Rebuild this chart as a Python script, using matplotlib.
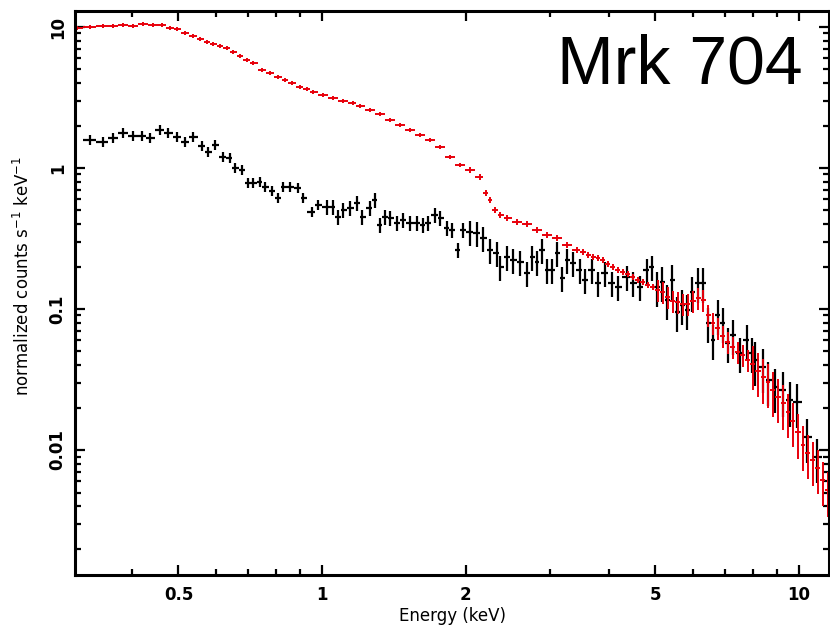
#!/usr/bin/env python3
import numpy as np
import matplotlib
matplotlib.use('Agg')
import matplotlib.pyplot as plt
from matplotlib.ticker import FixedLocator, NullFormatter, FixedFormatter

# second observation (red), energy in keV and normalized counts s^-1 keV^-1
red_energy = [0.306, 0.326, 0.347, 0.365, 0.383, 0.402, 0.421, 0.442, 0.462, 0.480,
              0.497, 0.516, 0.537, 0.555, 0.574, 0.591, 0.611, 0.632, 0.651, 0.673,
              0.696, 0.717, 0.749, 0.778, 0.809, 0.836, 0.865, 0.899, 0.930, 0.957,
              1.005, 1.054, 1.107, 1.161, 1.201, 1.261, 1.323, 1.389, 1.457, 1.529,
              1.605, 1.684, 1.768, 1.855, 1.947, 2.043, 2.144, 2.207, 2.250, 2.305,
              2.362, 2.443, 2.564, 2.690, 2.823, 2.963, 3.110, 3.264, 3.424, 3.525,
              3.612, 3.700, 3.790, 3.882, 3.977, 4.074, 4.174, 4.276, 4.380, 4.487,
              4.597, 4.709, 4.824, 4.942, 5.063, 5.186, 5.313, 5.443, 5.576, 5.712,
              5.852, 5.995, 6.143, 6.293, 6.450, 6.602, 6.763, 6.928, 7.097, 7.270,
              7.448, 7.630, 7.817, 8.008, 8.204, 8.410, 8.610, 8.821, 9.036, 9.260,
              9.483, 9.714, 9.952, 10.20, 10.44, 10.70, 10.96, 11.23, 11.50]
red_counts = [9.84, 10.0, 10.16, 10.16, 10.33, 10.16, 10.5, 10.33, 10.33, 9.84,
              9.68, 9.07, 8.64, 8.22, 7.83, 7.58, 7.33, 7.10, 6.65, 6.23,
              5.83, 5.55, 4.95, 4.72, 4.42, 4.21, 4.01, 3.75, 3.63, 3.46,
              3.29, 3.14, 2.99, 2.89, 2.75, 2.58, 2.42, 2.19, 2.02, 1.86,
              1.71, 1.58, 1.41, 1.20, 1.05, 0.968, 0.863, 0.665, 0.593, 0.504,
              0.464, 0.442, 0.414, 0.401, 0.363, 0.335, 0.319, 0.284, 0.262, 0.254,
              0.242, 0.234, 0.230, 0.223, 0.209, 0.199, 0.189, 0.183, 0.177, 0.169,
              0.161, 0.155, 0.148, 0.143, 0.136, 0.132, 0.122, 0.114, 0.112, 0.109,
              0.109, 0.114, 0.120, 0.116, 0.0907, 0.0796, 0.0733, 0.0644, 0.0583, 0.0537,
              0.0495, 0.0472, 0.0435, 0.0407, 0.0363, 0.0329, 0.0304, 0.0266, 0.0238, 0.0215,
              0.0186, 0.0161, 0.0134, 0.0109, 0.00952, 0.00849, 0.00745, 0.00613, 0.00517]

# first observation (black)
black_energy = [0.326, 0.347, 0.365, 0.383, 0.402, 0.419, 0.436, 0.457, 0.476, 0.497,
                0.516, 0.537, 0.560, 0.577, 0.597, 0.620, 0.641, 0.657, 0.680, 0.700,
                0.717, 0.741, 0.759, 0.786, 0.809, 0.828, 0.857, 0.891, 0.912, 0.953,
                0.981, 1.024, 1.054, 1.080, 1.107, 1.145, 1.184, 1.213, 1.261, 1.291,
                1.323, 1.355, 1.389, 1.436, 1.478, 1.529, 1.582, 1.628, 1.668, 1.725,
                1.768, 1.828, 1.873, 1.928, 1.975, 2.043, 2.113, 2.176, 2.250, 2.327,
                2.362, 2.443, 2.515, 2.601, 2.690, 2.756, 2.823, 2.892, 2.963, 3.035,
                3.110, 3.186, 3.264, 3.358, 3.474, 3.559, 3.681, 3.790, 3.920, 4.055,
                4.174, 4.359, 4.490, 4.642, 4.801, 4.918, 5.039, 5.163, 5.289, 5.418,
                5.550, 5.685, 5.830, 5.968, 6.143, 6.293, 6.450, 6.602, 6.763, 6.928,
                7.097, 7.270, 7.520, 7.780, 7.970, 8.090, 8.410, 8.610, 8.910, 9.260,
                9.570, 9.900, 10.39, 10.91]
black_counts = [1.58, 1.53, 1.63, 1.77, 1.69, 1.69, 1.63, 1.86, 1.77, 1.66,
                1.53, 1.66, 1.43, 1.30, 1.46, 1.20, 1.18, 1.00, 0.968, 0.783,
                0.783, 0.796, 0.733, 0.687, 0.613, 0.733, 0.733, 0.721, 0.613, 0.487,
                0.547, 0.529, 0.529, 0.449, 0.504, 0.520, 0.565, 0.449, 0.520, 0.593,
                0.394, 0.449, 0.442, 0.407, 0.428, 0.407, 0.407, 0.394, 0.407, 0.464,
                0.442, 0.375, 0.363, 0.262, 0.363, 0.352, 0.346, 0.319, 0.262, 0.249,
                0.199, 0.234, 0.223, 0.215, 0.180, 0.234, 0.215, 0.262, 0.189, 0.189,
                0.249, 0.166, 0.223, 0.212, 0.189, 0.161, 0.189, 0.153, 0.180, 0.153,
                0.143, 0.169, 0.153, 0.143, 0.189, 0.199, 0.143, 0.155, 0.116, 0.161,
                0.0952, 0.107, 0.0984, 0.132, 0.153, 0.153, 0.0796, 0.0603, 0.0907, 0.0796,
                0.0574, 0.0654, 0.0487, 0.0603, 0.0487, 0.0435, 0.0388, 0.0314, 0.0280, 0.0266,
                0.0226, 0.0219, 0.0124, 0.00892]

# rough fractional errors per energy band (upper band edge in keV)
band_edges = [1.0, 2.0, 5.0, 8.0, 100.0]
red_relerr = [0.03, 0.03, 0.05, 0.18, 0.35]
black_relerr = [0.08, 0.12, 0.20, 0.28, 0.35]


def bin_halfwidths(energy):
    e = np.asarray(energy)
    mids = np.sqrt(e[1:] * e[:-1])
    lo = np.concatenate([[e[0] ** 2 / mids[0]], mids])
    hi = np.concatenate([mids, [e[-1] ** 2 / mids[-1]]])
    return np.vstack([e - lo, hi - e])


def count_errors(energy, counts, relerr):
    e = np.asarray(energy)
    c = np.asarray(counts)
    idx = np.searchsorted(band_edges, e)
    return c * np.asarray(relerr)[idx]


def draw_spectrum(ax, energy, counts, relerr, color, lw):
    ax.errorbar(energy, counts,
                xerr=bin_halfwidths(energy),
                yerr=count_errors(energy, counts, relerr),
                fmt='none', ecolor=color, elinewidth=lw, capsize=0)


def main():
    plt.rcParams['font.family'] = 'DejaVu Sans'
    fig = plt.figure(figsize=(8.3, 6.25), dpi=100)
    ax = fig.add_axes([0.0904, 0.08, 0.9084, 0.9024])

    draw_spectrum(ax, black_energy, black_counts, black_relerr, 'black', 1.6)
    draw_spectrum(ax, red_energy, red_counts, red_relerr, '#e8000b', 1.4)

    ax.set_xscale('log')
    ax.set_yscale('log')
    ax.set_xlim(0.3035, 11.56)
    ax.set_ylim(0.0013, 12.99)

    xmajor = [0.5, 1, 2, 5, 10]
    ax.xaxis.set_major_locator(FixedLocator(xmajor))
    ax.xaxis.set_major_formatter(FixedFormatter(['0.5', '1', '2', '5', '10']))
    ax.xaxis.set_minor_locator(FixedLocator([0.4, 0.6, 0.7, 0.8, 0.9, 3, 4, 6, 7, 8, 9]))
    ax.xaxis.set_minor_formatter(NullFormatter())

    ymajor = [0.01, 0.1, 1, 10]
    ax.yaxis.set_major_locator(FixedLocator(ymajor))
    ax.yaxis.set_major_formatter(FixedFormatter(['0.01', '0.1', '1', '10']))
    yminor = [m * d for d in [0.001, 0.01, 0.1, 1] for m in range(2, 10)]
    ax.yaxis.set_minor_locator(FixedLocator(yminor))
    ax.yaxis.set_minor_formatter(NullFormatter())

    for s in ax.spines.values():
        s.set_linewidth(2.2)
    ax.tick_params(which='both', direction='in', top=True, right=True, width=1.6)
    ax.tick_params(which='major', length=7.5)
    ax.tick_params(which='minor', length=4)
    ax.tick_params(axis='x', labelsize=12, pad=8)
    ax.tick_params(axis='y', labelsize=12, pad=6)
    for lab in ax.get_xticklabels() + ax.get_yticklabels():
        lab.set_fontweight('bold')
    for lab in ax.get_yticklabels():
        lab.set_rotation(90)
        lab.set_verticalalignment('center')

    ax.set_xlabel('Energy (keV)', fontsize=12, labelpad=2)
    ax.set_ylabel('normalized counts s$^{-1}$ keV$^{-1}$', fontsize=12)
    ax.yaxis.set_label_coords(-0.056, 0.53)

    ax.text(0.965, 0.904, 'Mrk 704', transform=ax.transAxes, ha='right', va='center',
            fontsize=49, family='Liberation Sans')

    fig.savefig('out.png', dpi=100)


if __name__ == '__main__':
    main()
